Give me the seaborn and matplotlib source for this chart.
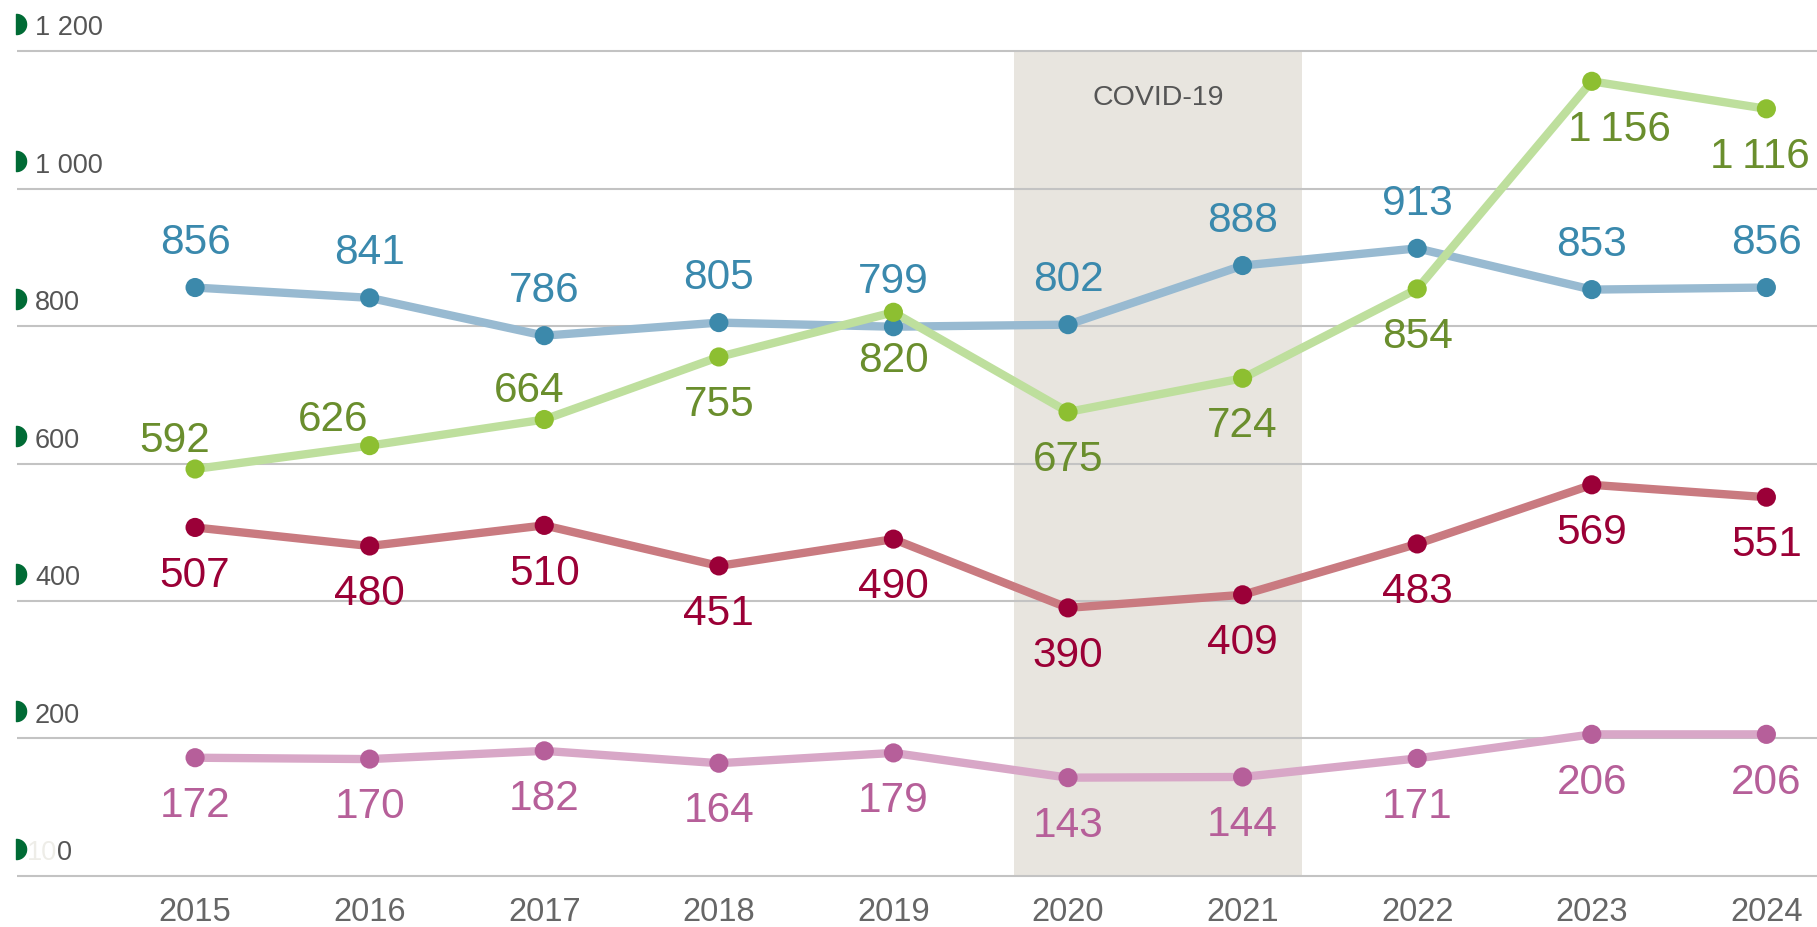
import numpy as np
import pandas as pd
import matplotlib
matplotlib.use("Agg")
import matplotlib.pyplot as plt
import matplotlib.transforms as mtransforms
from matplotlib.path import Path
import seaborn as sns

# ---------------- data ----------------
years = [2015, 2016, 2017, 2018, 2019, 2020, 2021, 2022, 2023, 2024]
blue_vals = [856, 841, 786, 805, 799, 802, 888, 913, 853, 856]
green_vals = [592, 626, 664, 755, 820, 675, 724, 854, 1156, 1116]
red_vals = [507, 480, 510, 451, 490, 390, 409, 483, 569, 551]
pink_vals = [172, 170, 182, 164, 179, 143, 144, 171, 206, 206]
y_ticks = [0, 200, 400, 600, 800, 1000, 1200]
covid_label = "COVID-19"
covid_span = (2019.69, 2021.34)

# ---------------- style ----------------
sns.set_theme(style="white")
plt.rcParams['font.family'] = ['Liberation Sans', 'DejaVu Sans']

fig = plt.figure(figsize=(18.17, 9.28), dpi=100)
ax = fig.add_axes([17 / 1817, 0.0513, 1800 / 1817, 0.8963])
ax.set_xlim(2013.98, 2024.29)
ax.set_ylim(-5, 1205)

for s in ax.spines.values():
    s.set_visible(False)

# grid
ax.set_yticks(y_ticks)
ax.set_yticklabels([])
ax.tick_params(axis='y', length=0)
ax.yaxis.grid(True, color='#C3C3C3', lw=1.5)
ax.set_axisbelow(True)

# covid band
ax.fill_betweenx([0, 1200], covid_span[0], covid_span[1], color='#E8E5DF', zorder=0, lw=0)
ax.text(sum(covid_span) / 2, 1133, covid_label, ha='center', va='center',
        fontsize=20.5, color='#555555')

series = [
    (blue_vals, '#98BAD1', '#3C89AB', '#3A89AD', 'above'),
    (green_vals, '#BEDF9D', '#8DBF31', '#6A8E2D', 'green'),
    (red_vals, '#C97A80', '#9B0038', '#9B0036', 'below'),
    (pink_vals, '#D8A7C7', '#B65F9A', '#B65F99', 'below'),
]

green_offsets = {
    2015: (-15, 21), 2016: (-26, 19), 2017: (-11, 21),
    2023: (20, -34), 2024: (-5, -34),
}

def fmt(v, sep=" "):
    return f"{v:,}".replace(",", sep)

draw_order = [series[3], series[2], series[0], series[1]]
for vals, lc, mc, tc, pos in draw_order:
    df = pd.DataFrame({"year": years, "value": vals})
    sns.lineplot(data=df, x="year", y="value", ax=ax, color=lc, lw=6,
                 solid_capstyle='butt', zorder=3)
    sns.scatterplot(data=df, x="year", y="value", ax=ax, color=mc, s=190,
                    edgecolor='none', zorder=4)
    for yr, v in zip(years, vals):
        if pos == 'above':
            off = (0, 33)
        elif pos == 'below':
            off = (0, -34)
        else:
            off = green_offsets.get(yr, (0, -34))
        ax.annotate(fmt(v, "\u2009"), (yr, v), xytext=off, textcoords='offset points',
                    ha='center', va='center', fontsize=30.5, color=tc,
                    zorder=5, annotation_clip=False)

ax.set_xlabel("")
ax.set_ylabel("")

# x tick labels
ax.set_xticks(years)
ax.set_xticklabels([str(y) for y in years])
ax.tick_params(axis='x', length=0, pad=12, labelsize=23.5, labelcolor='#666666')

# y labels with half-disc icon
theta = np.linspace(-np.pi / 2, np.pi / 2, 40)
verts = np.column_stack([np.cos(theta), np.sin(theta)])
verts = np.vstack([verts, [[0, -1]]])
half_disc = Path(verts, closed=True)
trans = mtransforms.blended_transform_factory(ax.transAxes, ax.transData)
icon_x = -1 / 1800
icon_trans = mtransforms.offset_copy(trans, fig=fig, x=0, y=19.5, units='points')
text_trans = mtransforms.offset_copy(trans, fig=fig, x=0, y=12, units='points')
for yv in y_ticks:
    ax.plot([icon_x], [yv], marker=half_disc, markersize=14.5, color='#006B35',
            transform=icon_trans, clip_on=False, lw=0)
    if yv == 0:
        ax.text(40 / 1800, yv, "10", transform=text_trans, ha='right', va='baseline',
                fontsize=19.5, color='#EEEDE8')
        ax.text(40 / 1800, yv, "0", transform=text_trans, ha='left', va='baseline',
                fontsize=19.5, color='#555555')
    else:
        ax.text(18 / 1800, yv, fmt(yv), transform=text_trans, ha='left', va='baseline',
                fontsize=19.5, color='#555555')

fig.savefig("out.png", dpi=100)
